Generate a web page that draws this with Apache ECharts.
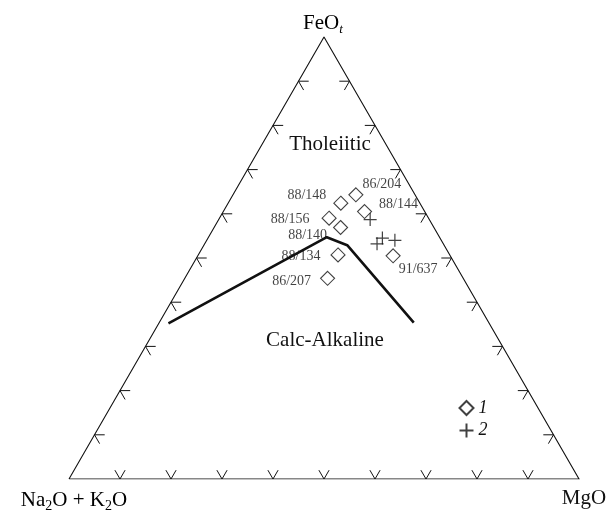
<!DOCTYPE html>
<html>
<head>
<meta charset="utf-8">
<script src="https://cdn.jsdelivr.net/npm/echarts@6/dist/echarts.min.js"></script>
<style>
  html, body { margin: 0; padding: 0; background: #fff; }
  #chart { width: 610px; height: 510px; }
</style>
</head>
<body>
<div id="chart"></div>
<script>
// compositions in %
const sampleNames = ['88/148', '86/204', '88/156', '88/140', '88/144', '88/134', '86/207', '91/637'];
const sampleAlk = [15.5, 11.6, 19.5, 18.3, 11.8, 21.9, 26.6, 11.2];
const sampleFeO = [62.4, 64.3, 59.0, 56.9, 60.5, 50.7, 45.4, 50.5];
const sampleMgO = [22.1, 24.1, 21.5, 24.8, 27.7, 27.4, 28.0, 38.3];

const group2Alk = [11.6, 11.3, 13.0, 9.1];
const group2FeO = [58.7, 54.5, 53.2, 54.0];
const group2MgO = [29.7, 34.2, 33.8, 36.9];

// tholeiitic / calc-alkaline boundary
const boundAlk = [62.9, 22.1, 19.0, 14.7];
const boundFeO = [35.2, 54.7, 52.9, 35.4];
const boundMgO = [1.9, 23.2, 28.1, 49.9];

const tickValues = [10, 20, 30, 40, 50, 60, 70, 80, 90];

// label offsets (px) of the sample names from their diamonds
const labelOffsets = [[-34, -8], [26, -10], [-39, 1], [-33, 8], [34, -7], [-37, 1], [-36, 3], [25, 14]];

const FONT = 'Liberation Serif';
const INK = '#111';
const H = 50 * Math.sqrt(3);

// ternary (alk, feo, mgo) -> plot x, y
function toXY(a, f, m) {
  const s = a + f + m;
  return [(m + f / 2) / s * 100, f / s * H];
}

const frame = [toXY(100, 0, 0), toXY(0, 0, 100), toXY(0, 100, 0), toXY(100, 0, 0)];

// V-shaped ticks on the three sides
const L = 2;
const r3 = Math.sqrt(3) / 2;
const ticks = [];
tickValues.forEach(t => {
  // bottom
  let [x, y] = toXY(100 - t, 0, t);
  ticks.push({ coords: [[x - L / 2, y + L * r3], [x, y], [x + L / 2, y + L * r3]] });
  // left
  [x, y] = toXY(100 - t, t, 0);
  ticks.push({ coords: [[x + L, y], [x, y], [x + L / 2, y - L * r3]] });
  // right
  [x, y] = toXY(0, t, 100 - t);
  ticks.push({ coords: [[x - L, y], [x, y], [x - L / 2, y - L * r3]] });
});

const samples = sampleNames.map((n, i) => ({
  name: n,
  value: toXY(sampleAlk[i], sampleFeO[i], sampleMgO[i]),
  label: { offset: labelOffsets[i] }
}));
const group2 = group2Alk.map((a, i) => toXY(a, group2FeO[i], group2MgO[i]));
const boundary = boundAlk.map((a, i) => toXY(a, boundFeO[i], boundMgO[i]));

const chart = echarts.init(document.getElementById('chart'));

const subRich = {
  n: { fontFamily: FONT, fontSize: 21, color: INK, lineHeight: 26 },
  s: { fontFamily: FONT, fontSize: 14, color: INK, lineHeight: 14, verticalAlign: 'bottom' },
  si: { fontFamily: FONT, fontSize: 13, fontStyle: 'italic', color: INK, lineHeight: 14, verticalAlign: 'bottom' }
};

chart.setOption({
  animation: false,
  backgroundColor: '#fff',
  grid: { left: 69, right: 31, top: 37, bottom: 31 },
  xAxis: { type: 'value', min: 0, max: 100, show: false },
  yAxis: { type: 'value', min: 0, max: H, show: false },
  legend: {
    orient: 'vertical',
    left: 452,
    top: 394,
    itemWidth: 14,
    itemHeight: 14,
    itemGap: 4,
    data: ['1', '2'],
    textStyle: { fontFamily: FONT, fontSize: 18, fontStyle: 'italic', color: INK }
  },
  graphic: [
    { type: 'text', x: 323, y: 23, style: { text: '{n|FeO}{si|t}', rich: subRich, align: 'center', verticalAlign: 'middle' } },
    { type: 'text', x: 74, y: 500, style: { text: '{n|Na}{s|2}{n|O + K}{s|2}{n|O}', rich: subRich, align: 'center', verticalAlign: 'middle' } },
    { type: 'text', x: 584, y: 498, style: { text: 'MgO', fontFamily: FONT, fontSize: 21, fill: INK, align: 'center', verticalAlign: 'middle' } },
    { type: 'text', x: 330, y: 144, style: { text: 'Tholeiitic', fontFamily: FONT, fontSize: 21, fill: INK, align: 'center', verticalAlign: 'middle' } },
    { type: 'text', x: 325, y: 340, style: { text: 'Calc-Alkaline', fontFamily: FONT, fontSize: 21, fill: INK, align: 'center', verticalAlign: 'middle' } }
  ],
  series: [
    {
      type: 'lines',
      coordinateSystem: 'cartesian2d',
      polyline: true,
      silent: true,
      lineStyle: { color: INK, width: 1.1, opacity: 1 },
      data: [{ coords: frame }]
    },
    {
      type: 'lines',
      coordinateSystem: 'cartesian2d',
      polyline: true,
      silent: true,
      lineStyle: { color: INK, width: 1, opacity: 1 },
      data: ticks
    },
    {
      type: 'line',
      data: boundary,
      symbol: 'none',
      lineStyle: { color: INK, width: 2.6 }
    },
    {
      name: '1',
      type: 'scatter',
      symbol: 'diamond',
      symbolSize: 14,
      itemStyle: { color: '#fff', borderColor: INK, borderWidth: 1.1 },
      label: {
        show: true,
        position: 'inside',
        formatter: '{b}',
        fontFamily: FONT,
        fontSize: 14,
        color: INK,
        textBorderWidth: 0
      },
      data: samples
    },
    {
      name: '2',
      type: 'scatter',
      symbol: 'path://M0,6.5H13M6.5,0V13',
      symbolSize: 13,
      itemStyle: { color: 'none', borderColor: INK, borderWidth: 1.2 },
      data: group2
    }
  ]
});
</script>
</body>
</html>
